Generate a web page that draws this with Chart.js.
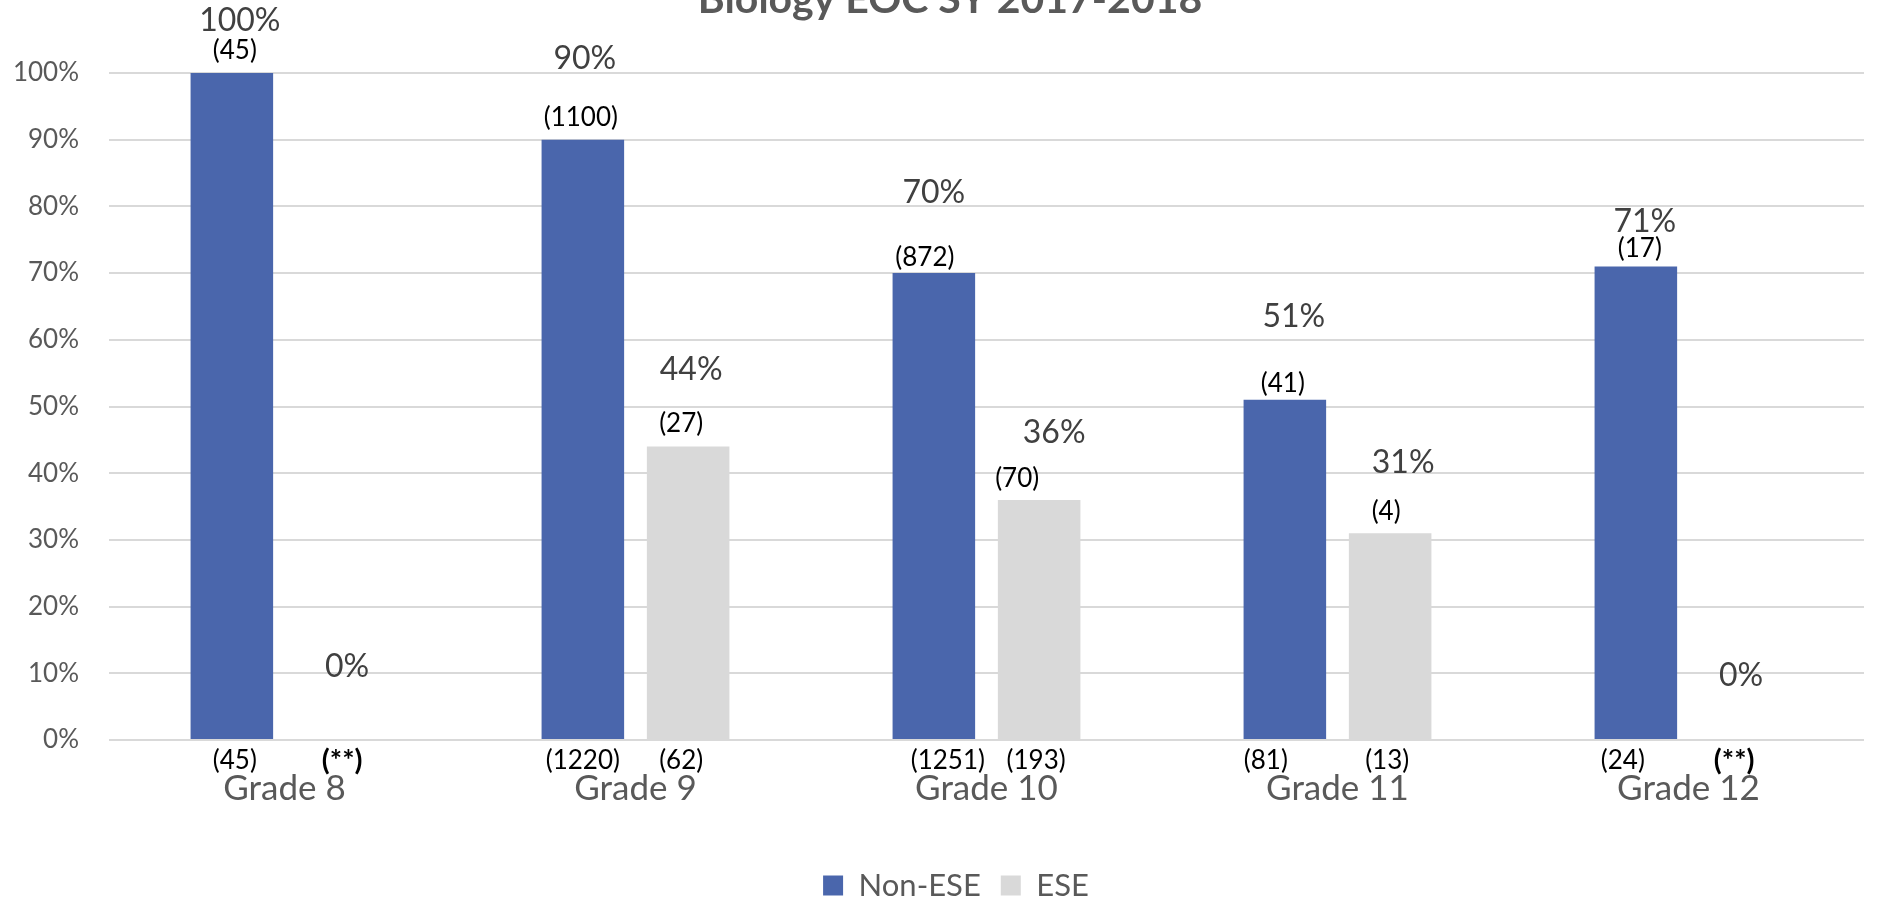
<!DOCTYPE html>
<html><head><meta charset="utf-8">
<script src="https://cdn.jsdelivr.net/npm/chart.js@4.4.1/dist/chart.umd.min.js"></script>
<style>html,body{margin:0;padding:0;background:#fff;overflow:hidden}#wrap{width:1878px;height:901px;position:relative}</style>
</head><body><div id="wrap"><canvas id="c"></canvas></div>
<script>
// ---- data ----
const chartTitle = 'Biology EOC SY 2017-2018';
const categories = ['Grade 8', 'Grade 9', 'Grade 10', 'Grade 11', 'Grade 12'];
const seriesNames = ['Non-ESE', 'ESE'];
const nonEse = [100, 90, 70, 51, 71];
const ese = [0, 44, 36, 31, 0];
const nonEseTopCounts = ['(45)', '(1100)', '(872)', '(41)', '(17)'];
const eseTopCounts = ['', '(27)', '(70)', '(4)', ''];
const nonEseBottomCounts = ['(45)', '(1220)', '(1251)', '(81)', '(24)'];
const eseBottomCounts = ['(**)', '(62)', '(193)', '(13)', '(**)'];
const yTickLabels = ['0%', '10%', '20%', '30%', '40%', '50%', '60%', '70%', '80%', '90%', '100%'];

// ---- label layout (pixel offsets from each bar top) ----
const pctRise = [[52, 81, 80, 83, 45], [73, 77, 67, 71, 64]];
const pctShift = [[8, 2, 0, 9, 9], [10, 3, 15, 13, 0]];
const cntRise = [[22, 22, 15, 16, 18], [0, 23, 21, 22, 0]];
const cntShift = [[3, -2, -9, -2, 4], [0, -7, -22, -4, 0]];
const botShift = [[3, 0, 14, -19, -13], [5, -7, -3, -3, -7]];

const FONT = 'Lato, "Open Sans", sans-serif';
const GREY = '#595959';

const labelPlugin = {
  id: 'labels',
  afterLayout(chart) {
    if (chart.legend) { chart.legend.left = 48; }
  },
  afterDatasetsDraw(chart) {
    const ctx = chart.ctx;
    const area = chart.chartArea;
    const values = [nonEse, ese];
    const tops = [nonEseTopCounts, eseTopCounts];
    const bots = [nonEseBottomCounts, eseBottomCounts];
    ctx.save();
    ctx.textAlign = 'center';
    ctx.textBaseline = 'middle';
    for (let d = 0; d < 2; d++) {
      const meta = chart.getDatasetMeta(d);
      meta.data.forEach((el, j) => {
        const x = el.x, y = el.y;
        ctx.font = '32px ' + FONT;
        ctx.fillStyle = '#404040';
        ctx.fillText(values[d][j] + '%', x + pctShift[d][j], y - pctRise[d][j]);
        if (tops[d][j]) {
          ctx.font = '26px ' + FONT;
          ctx.fillStyle = '#000000';
          ctx.fillText(tops[d][j], x + cntShift[d][j], y - cntRise[d][j]);
        }
        const b = bots[d][j];
        ctx.font = (b === '(**)' ? 'bold 29px ' : '26px ') + FONT;
        ctx.fillStyle = '#000000';
        ctx.fillText(b, x + botShift[d][j], area.bottom + 21);
      });
    }
    ctx.restore();
  }
};

const titlePlugin = {
  id: 'cutTitle',
  afterDraw(chart) {
    const ctx = chart.ctx;
    ctx.save();
    ctx.font = 'bold 41px ' + FONT;
    ctx.fillStyle = GREY;
    ctx.textAlign = 'center';
    ctx.textBaseline = 'alphabetic';
    ctx.fillText(chartTitle, 950, 13);
    ctx.restore();
  }
};

const bgPlugin = {
  id: 'bg',
  beforeDraw(chart) {
    const ctx = chart.ctx;
    ctx.save();
    ctx.fillStyle = '#ffffff';
    ctx.fillRect(0, 0, chart.width, chart.height);
    ctx.restore();
  }
};

new Chart(document.getElementById('c'), {
  type: 'bar',
  data: {
    labels: categories,
    datasets: [
      { label: seriesNames[0], data: nonEse, backgroundColor: '#4a66ac', borderWidth: 0,
        categoryPercentage: 0.6, barPercentage: 0.784 },
      { label: seriesNames[1], data: ese, backgroundColor: '#d9d9d9', borderWidth: 0,
        categoryPercentage: 0.6, barPercentage: 0.784 }
    ]
  },
  options: {
    responsive: true,
    maintainAspectRatio: false,
    animation: false,
    devicePixelRatio: 1,
    layout: { padding: { left: 0, right: 14, top: 73, bottom: 0 } },
    plugins: {
      title: { display: false },
      tooltip: { enabled: false },
      legend: {
        position: 'bottom',
        align: 'center',
        maxHeight: 51,
        labels: {
          boxWidth: 20, boxHeight: 20, padding: 20,
          color: GREY,
          font: { family: FONT, size: 31 }
        }
      }
    },
    scales: {
      x: {
        grid: { display: false, drawTicks: false },
        border: { display: false },
        ticks: { color: GREY, padding: 28, font: { family: FONT, size: 35 }, maxRotation: 0 },
        afterFit(scale) { scale.height = 110; }
      },
      y: {
        min: 0, max: 100,
        grid: { color: '#d9d9d9', lineWidth: 2, drawTicks: false },
        border: { display: false },
        ticks: {
          stepSize: 10, color: GREY, padding: 30,
          font: { family: FONT, size: 26 },
          callback: (v) => yTickLabels[Math.round(v / 10)]
        },
        afterFit(scale) { scale.width = 109; }
      }
    }
  },
  plugins: [bgPlugin, labelPlugin, titlePlugin]
});
</script>
</body></html>
